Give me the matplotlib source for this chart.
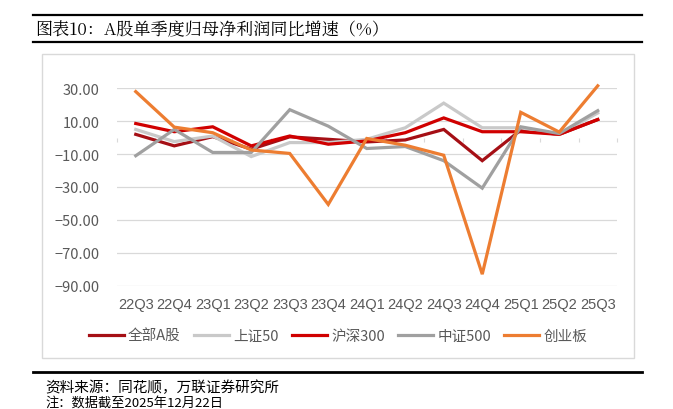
import matplotlib.pyplot as plt
from matplotlib.patches import Rectangle
from matplotlib.lines import Line2D

plt.rcParams['font.family'] = ['Noto Sans CJK SC', 'DejaVu Sans']

# 季度
quarters = ['22Q3', '22Q4', '23Q1', '23Q2', '23Q3', '23Q4', '24Q1',
            '24Q2', '24Q3', '24Q4', '25Q1', '25Q2', '25Q3']

# 各指数归母净利润同比增速（%）
all_a = [2, -5, 0.6, -7, 0.5, -1, -2.6, -1.4, 5, -14, 4.6, 2, 11]
sz50 = [5, -2.4, 1, -11.5, -3, -3, -1, 6, 21, 6, 6, 2, 15]
hs300 = [8.6, 3.6, 6.6, -5, 1, -4, -2, 3, 12, 3.6, 3.6, 2, 11]
zz500 = [-11, 5, -9, -9, 17, 7, -6.6, -5.4, -14, -30.7, 6.6, 2.5, 16.4]
cyb = [28, 6.4, 3, -7.5, -9.6, -40.6, -0.5, -4.6, -10.7, -83, 15.4, 3.4, 31.5]

names = ['全部A股', '上证50', '沪深300', '中证500', '创业板']
colors = ['#A50F15', '#C9C9C9', '#D00000', '#A0A0A0', '#ED7D31']
yticks = [30, 10, -10, -30, -50, -70, -90]

W, H = 673, 410
fig = plt.figure(figsize=(W / 100, H / 100), dpi=100)

# 标题与分隔线
for y in (16, 42.7):
    fig.add_artist(Line2D([33 / W, 642 / W], [1 - y / H, 1 - y / H], color='black', lw=1.6))
fig.add_artist(Line2D([33 / W, 642 / W], [1 - 372.7 / H] * 2, color='black', lw=2))
fig.text(35 / W, 1 - 30 / H, '图表10：A股单季度归母净利润同比增速（%）', fontsize=12.3,
         va='center', ha='left', family=['Noto Serif CJK SC', 'Noto Sans CJK SC', 'DejaVu Serif'])
fig.text(45 / W, 1 - 388 / H, '资料来源：同花顺，万联证券研究所', fontsize=10.5,
         va='center', ha='left')
fig.text(45 / W, 1 - 403 / H, '注：数据截至2025年12月22日', fontsize=9.5,
         va='center', ha='left')

# 图表边框
fig.add_artist(Rectangle((41.7 / W, 1 - 359 / H), (634.3 - 41.7) / W, (359 - 55) / H,
                         transform=fig.transFigure, facecolor='white',
                         edgecolor='#D9D9D9', lw=1, zorder=-1))

ax = fig.add_axes([116.5 / W, 1 - 286.7 / H, (617 - 116.5) / W, (286.7 - 89.3) / H])
ax.set_facecolor('none')
x = list(range(len(quarters)))
series = [all_a, sz50, hs300, zz500, cyb]
for vals, name, c in zip(series, names, colors):
    ax.plot(x, vals, color=c, lw=2.3, label=name, solid_joinstyle='miter', clip_on=False)

ax.set_xlim(-0.5, len(quarters) - 0.5)
ax.set_ylim(-90, 30)
ax.set_yticks(yticks)
ax.set_yticklabels([f'{v:.2f}'.replace('-', '−') for v in yticks])
ax.set_xticks(x)
ax.set_xticklabels(quarters, family=['Liberation Sans', 'Noto Sans CJK SC'])
ax.tick_params(axis='y', length=0, pad=12, labelsize=10.5, labelcolor='#595959')
ax.tick_params(axis='x', length=0, pad=8, labelsize=10.5, labelcolor='#595959')
ax.grid(axis='y', color='#D9D9D9', lw=0.9)
ax.set_axisbelow(True)
for s in ax.spines.values():
    s.set_visible(False)

# 零轴
sec = ax.secondary_xaxis(0.75)
sec.set_xticks([i + 0.5 for i in range(-1, len(quarters))])
sec.set_xticklabels([])
sec.xaxis.set_ticks_position('bottom')
sec.tick_params(axis='x', length=3, color='#D9D9D9', direction='out')
sec.spines['bottom'].set_color('#D9D9D9')
for k in ('top', 'left', 'right'):
    sec.spines[k].set_visible(False)
sec.set_zorder(-0.5)

handles, labels = ax.get_legend_handles_labels()
fig.legend(handles, labels, loc='center', bbox_to_anchor=(338 / W, 1 - 337 / H), ncol=5,
           frameon=False, fontsize=10.5, handlelength=2.4, handletextpad=0.3,
           columnspacing=0.9, labelcolor='#595959')

fig.savefig('out.png', dpi=100)
